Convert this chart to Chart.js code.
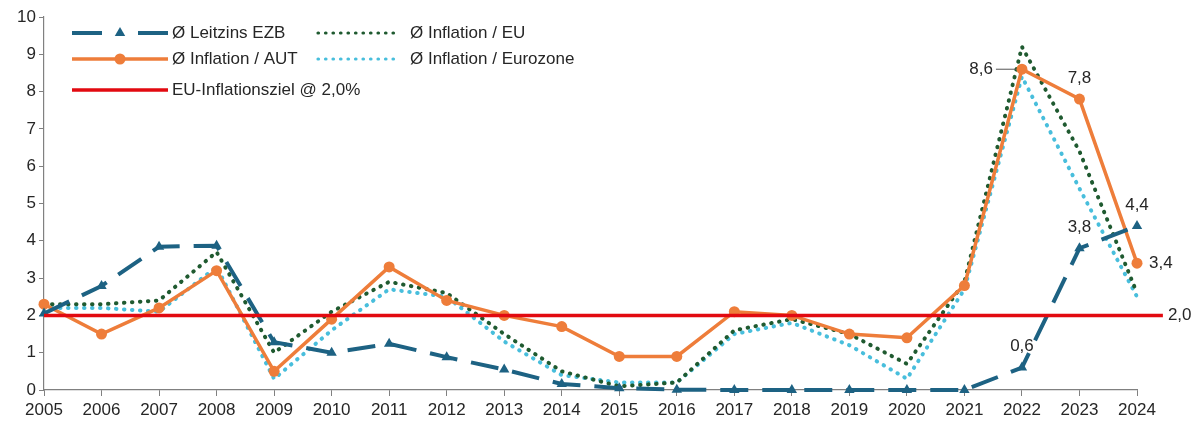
<!DOCTYPE html>
<html>
<head>
<meta charset="utf-8">
<script src="https://cdn.jsdelivr.net/npm/chart.js@4"></script>
<style>
  html, body { margin: 0; padding: 0; background: #fff; }
  #wrap { width: 1198px; height: 423px; }
</style>
</head>
<body>
<div id="wrap"><canvas id="myChart" width="1198" height="423"></canvas></div>
<script>
// Jahre und Werte
const years = [2005, 2006, 2007, 2008, 2009, 2010, 2011, 2012, 2013, 2014,
               2015, 2016, 2017, 2018, 2019, 2020, 2021, 2022, 2023, 2024];
const leitzinsEzb = [2.05, 2.79, 3.84, 3.87, 1.28, 1.00, 1.24, 0.88, 0.55, 0.16,
                     0.05, 0.01, 0, 0, 0, 0, 0, 0.6, 3.8, 4.4];
const inflationAut = [2.3, 1.5, 2.2, 3.2, 0.5, 1.9, 3.3, 2.4, 2.0, 1.7,
                      0.9, 0.9, 2.1, 2.0, 1.5, 1.4, 2.8, 8.6, 7.8, 3.4];
const inflationEu = [2.3, 2.3, 2.4, 3.7, 1.0, 2.1, 2.9, 2.6, 1.5, 0.5,
                     0.1, 0.2, 1.6, 1.9, 1.5, 0.7, 2.9, 9.2, 6.4, 2.6];
const inflationEurozone = [2.2, 2.2, 2.1, 3.3, 0.3, 1.6, 2.7, 2.5, 1.3, 0.4,
                           0.2, 0.2, 1.5, 1.8, 1.2, 0.3, 2.7, 8.4, 5.4, 2.5];
const inflationsziel = 2.0;
const yTicks = [0, 1, 2, 3, 4, 5, 6, 7, 8, 9, 10];

const FONT = '"Liberation Sans", Arial, sans-serif';
const TEXT = '#262626';
const AXIS = '#808080';

const BLUE = '#1d6283';
const ORANGE = '#ee7d3a';
const GREEN = '#1f5a30';
const CYAN = '#48bedc';
const RED = '#e20a10';

const pts = arr => years.map((y, i) => ({ x: y, y: arr[i] }));
const fmt = v => v.toFixed(1).replace('.', ',');

// Werte-Beschriftungen: [Dataset, Punkt-Index, Position]
const valueLabels = [
  [1, 17, 'left'], [1, 18, 'above'], [1, 19, 'right'],
  [0, 17, 'above'], [0, 18, 'above'], [0, 19, 'above'],
  [4, 1, 'right']
];

const labelPlugin = {
  id: 'valueLabels',
  afterDatasetsDraw(chart) {
    const ctx = chart.ctx;
    ctx.save();
    ctx.font = '17px ' + FONT;
    ctx.fillStyle = TEXT;
    ctx.textBaseline = 'middle';
    valueLabels.forEach(([ds, idx, pos]) => {
      const el = chart.getDatasetMeta(ds).data[idx];
      const v = chart.data.datasets[ds].data[idx].y;
      const t = fmt(v);
      if (pos === 'above') {
        ctx.textAlign = 'center';
        ctx.fillText(t, el.x, el.y - 21);
      } else if (pos === 'right') {
        ctx.textAlign = 'left';
        ctx.fillText(t, el.x + (ds === 4 ? 5 : 12), el.y);
      } else {
        // mit Führungslinie nach links
        ctx.textAlign = 'right';
        ctx.fillText(t, el.x - 29, el.y);
        ctx.strokeStyle = '#555';
        ctx.lineWidth = 1;
        ctx.beginPath();
        ctx.moveTo(el.x - 26, el.y);
        ctx.lineTo(el.x - 6, el.y);
        ctx.stroke();
      }
    });
    ctx.restore();
  }
};

// Legende im Diagrammbereich
const legendPlugin = {
  id: 'innerLegend',
  afterDraw(chart) {
    const ctx = chart.ctx;
    const items = [
      { ds: 0, x: 72, y: 33, len: 96 }, { ds: 2, x: 316, y: 33, len: 82 },
      { ds: 1, x: 72, y: 59, len: 96 }, { ds: 3, x: 316, y: 59, len: 82 },
      { ds: 4, x: 72, y: 90, len: 96 }
    ];
    ctx.save();
    items.forEach(it => {
      const d = chart.data.datasets[it.ds];
      const len = it.len;
      ctx.strokeStyle = d.borderColor;
      ctx.lineWidth = d.borderDash && d.borderCapStyle === 'round' ? 3.2 : d.borderWidth;
      ctx.lineCap = d.borderCapStyle || 'butt';
      ctx.setLineDash(d.borderDash ? [0.5, 7] : []);
      if (it.ds === 0) {
        ctx.setLineDash([]);
        ctx.beginPath();
        ctx.moveTo(it.x, it.y); ctx.lineTo(it.x + 30, it.y);
        ctx.moveTo(it.x + len - 30, it.y); ctx.lineTo(it.x + len, it.y);
        ctx.stroke();
      } else {
        ctx.beginPath();
        ctx.moveTo(it.x + (d.borderDash ? 2 : 0), it.y);
        ctx.lineTo(it.x + len, it.y);
        ctx.stroke();
      }
      ctx.setLineDash([]);
      const cx = it.x + len / 2;
      if (d.pointStyle === 'triangle') {
        const r = d.pointRadius;
        ctx.fillStyle = d.pointBackgroundColor;
        ctx.beginPath();
        ctx.moveTo(cx, it.y - r);
        ctx.lineTo(cx + r * 0.87, it.y + r * 0.5);
        ctx.lineTo(cx - r * 0.87, it.y + r * 0.5);
        ctx.closePath();
        ctx.fill();
      } else if (d.pointRadius > 0) {
        ctx.fillStyle = d.pointBackgroundColor;
        ctx.beginPath();
        ctx.arc(cx, it.y, d.pointRadius, 0, Math.PI * 2);
        ctx.fill();
      }
      ctx.font = '17px ' + FONT;
      ctx.fillStyle = TEXT;
      ctx.textAlign = 'left';
      ctx.textBaseline = 'middle';
      ctx.fillText(d.label, it.x + len + (it.x > 200 ? 12 : 4), it.y);
    });
    ctx.restore();
  }
};

new Chart(document.getElementById('myChart'), {
  type: 'line',
  data: {
    datasets: [{
      label: 'Ø Leitzins EZB',
      data: pts(leitzinsEzb),
      borderColor: BLUE,
      borderWidth: 4,
      borderDash: [28, 14],
      pointStyle: 'triangle',
      pointRadius: 6,
      pointBackgroundColor: BLUE,
      pointBorderWidth: 0,
      clip: false,
      order: 1
    }, {
      label: 'Ø Inflation / AUT',
      data: pts(inflationAut),
      borderColor: ORANGE,
      borderWidth: 3.5,
      pointStyle: 'circle',
      pointRadius: 5.5,
      pointBackgroundColor: ORANGE,
      pointBorderWidth: 0,
      clip: false,
      order: 2
    }, {
      label: 'Ø Inflation / EU',
      data: pts(inflationEu),
      borderColor: GREEN,
      borderWidth: 4,
      borderDash: [0.5, 7.5],
      borderCapStyle: 'round',
      pointRadius: 0,
      clip: false,
      order: 3
    }, {
      label: 'Ø Inflation / Eurozone',
      data: pts(inflationEurozone),
      borderColor: CYAN,
      borderWidth: 4,
      borderDash: [0.5, 7.5],
      borderCapStyle: 'round',
      pointRadius: 0,
      clip: false,
      order: 4
    }, {
      label: 'EU-Inflationsziel @ 2,0%',
      data: [{ x: years[0], y: inflationsziel },
             { x: years[years.length - 1] + 0.45, y: inflationsziel }],
      borderColor: RED,
      borderWidth: 3.5,
      pointRadius: 0,
      clip: false,
      order: 0
    }]
  },
  plugins: [labelPlugin, legendPlugin],
  options: {
    responsive: false,
    animation: false,
    layout: { padding: { top: 17, right: 61, left: 0, bottom: 0 } },
    plugins: { legend: { display: false }, tooltip: { enabled: false } },
    scales: {
      x: {
        type: 'linear',
        min: years[0],
        max: years[years.length - 1],
        afterBuildTicks: s => { s.ticks = years.map(v => ({ value: v })); },
        afterFit: s => { s.height = 33; },
        grid: { drawOnChartArea: false, tickLength: 6, color: AXIS, lineWidth: 1 },
        border: { color: AXIS, width: 1.2 },
        ticks: {
          callback: v => String(v),
          autoSkip: false,
          maxRotation: 0,
          padding: 4,
          color: TEXT,
          font: { family: FONT, size: 17 }
        }
      },
      y: {
        min: 0,
        max: 10,
        afterBuildTicks: s => { s.ticks = yTicks.map(v => ({ value: v })); },
        afterFit: s => { s.width = 44; },
        grid: { drawOnChartArea: false, tickLength: 5, color: AXIS, lineWidth: 1 },
        border: { color: AXIS, width: 1.2 },
        ticks: {
          padding: 3,
          color: TEXT,
          font: { family: FONT, size: 17 }
        }
      }
    }
  }
});
</script>
</body>
</html>
